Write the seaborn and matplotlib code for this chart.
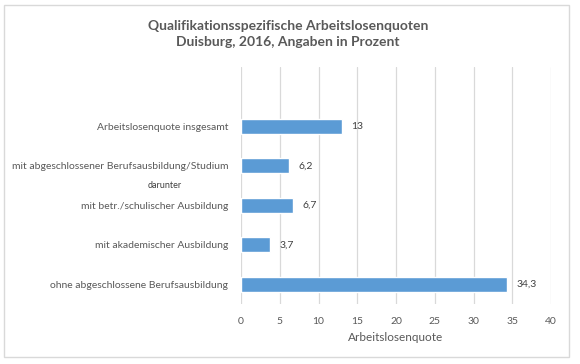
import pandas as pd
import seaborn as sns
import matplotlib.pyplot as plt
from matplotlib.patches import Rectangle

categories = ['Arbeitslosenquote insgesamt',
              'mit abgeschlossener Berufsausbildung/Studium',
              'mit betr./schulischer Ausbildung',
              'mit akademischer Ausbildung',
              'ohne abgeschlossene Berufsausbildung']
values = [13, 6.2, 6.7, 3.7, 34.3]
value_labels = ['13', '6,2', '6,7', '3,7', '34,3']
xticks = [0, 5, 10, 15, 20, 25, 30, 35, 40]

df = pd.DataFrame({'Kategorie': categories, 'Quote': values})

sns.set_style('white')
plt.rcParams['font.family'] = ['Lato', 'DejaVu Sans']
grey = '#595959'

fig = plt.figure(figsize=(5.8, 3.64), dpi=100)
fig.patches.append(Rectangle((4 / 580, 1 - 357 / 364), 565 / 580, 352 / 364,
                             transform=fig.transFigure, fill=False,
                             edgecolor='#d9d9d9', linewidth=1.0))
ax = fig.add_axes([241 / 580, 1 - 304 / 364, 310 / 580, 237 / 364])

sns.barplot(data=df, y='Kategorie', x='Quote', orient='h', color='#5b9bd5',
            saturation=1, width=0.37, ax=ax, zorder=3)

ax.set_xlim(0, 40)
ax.set_ylim(4.5, -1.5)
ax.set_xticks(xticks)
ax.set_xticklabels([str(t) for t in xticks], color=grey, fontsize=7.5)
ax.tick_params(axis='x', length=0, pad=9)
ax.tick_params(axis='y', length=0, pad=9)
ax.set_yticks(range(len(categories)))
ax.set_yticklabels(categories, color=grey, fontsize=7.5)
ax.grid(axis='x', color='#d9d9d9', linewidth=0.9, zorder=0)
for s in ax.spines.values():
    s.set_visible(False)
ax.set_ylabel('')
ax.set_xlabel('Arbeitslosenquote', color=grey, fontsize=8.5, labelpad=5)

for i, (v, lab) in enumerate(zip(values, value_labels)):
    ax.annotate(lab, (v, i), xytext=(7, 0), textcoords='offset points',
                va='center', ha='left', fontsize=7.5, color='#404040')

ax.annotate('darunter', (0, 1.5), xycoords=('axes fraction', 'data'),
            xytext=(-55, 0), textcoords='offset points',
            ha='center', va='center', fontsize=6.5, color='#404040')

fig.text(288 / 580, 1 - 34 / 364,
         'Qualifikationsspezifische Arbeitslosenquoten\nDuisburg, 2016, Angaben in Prozent',
         ha='center', va='center', fontsize=10, fontweight='bold', color=grey,
         linespacing=1.3)

fig.savefig('out.png', dpi=100)
